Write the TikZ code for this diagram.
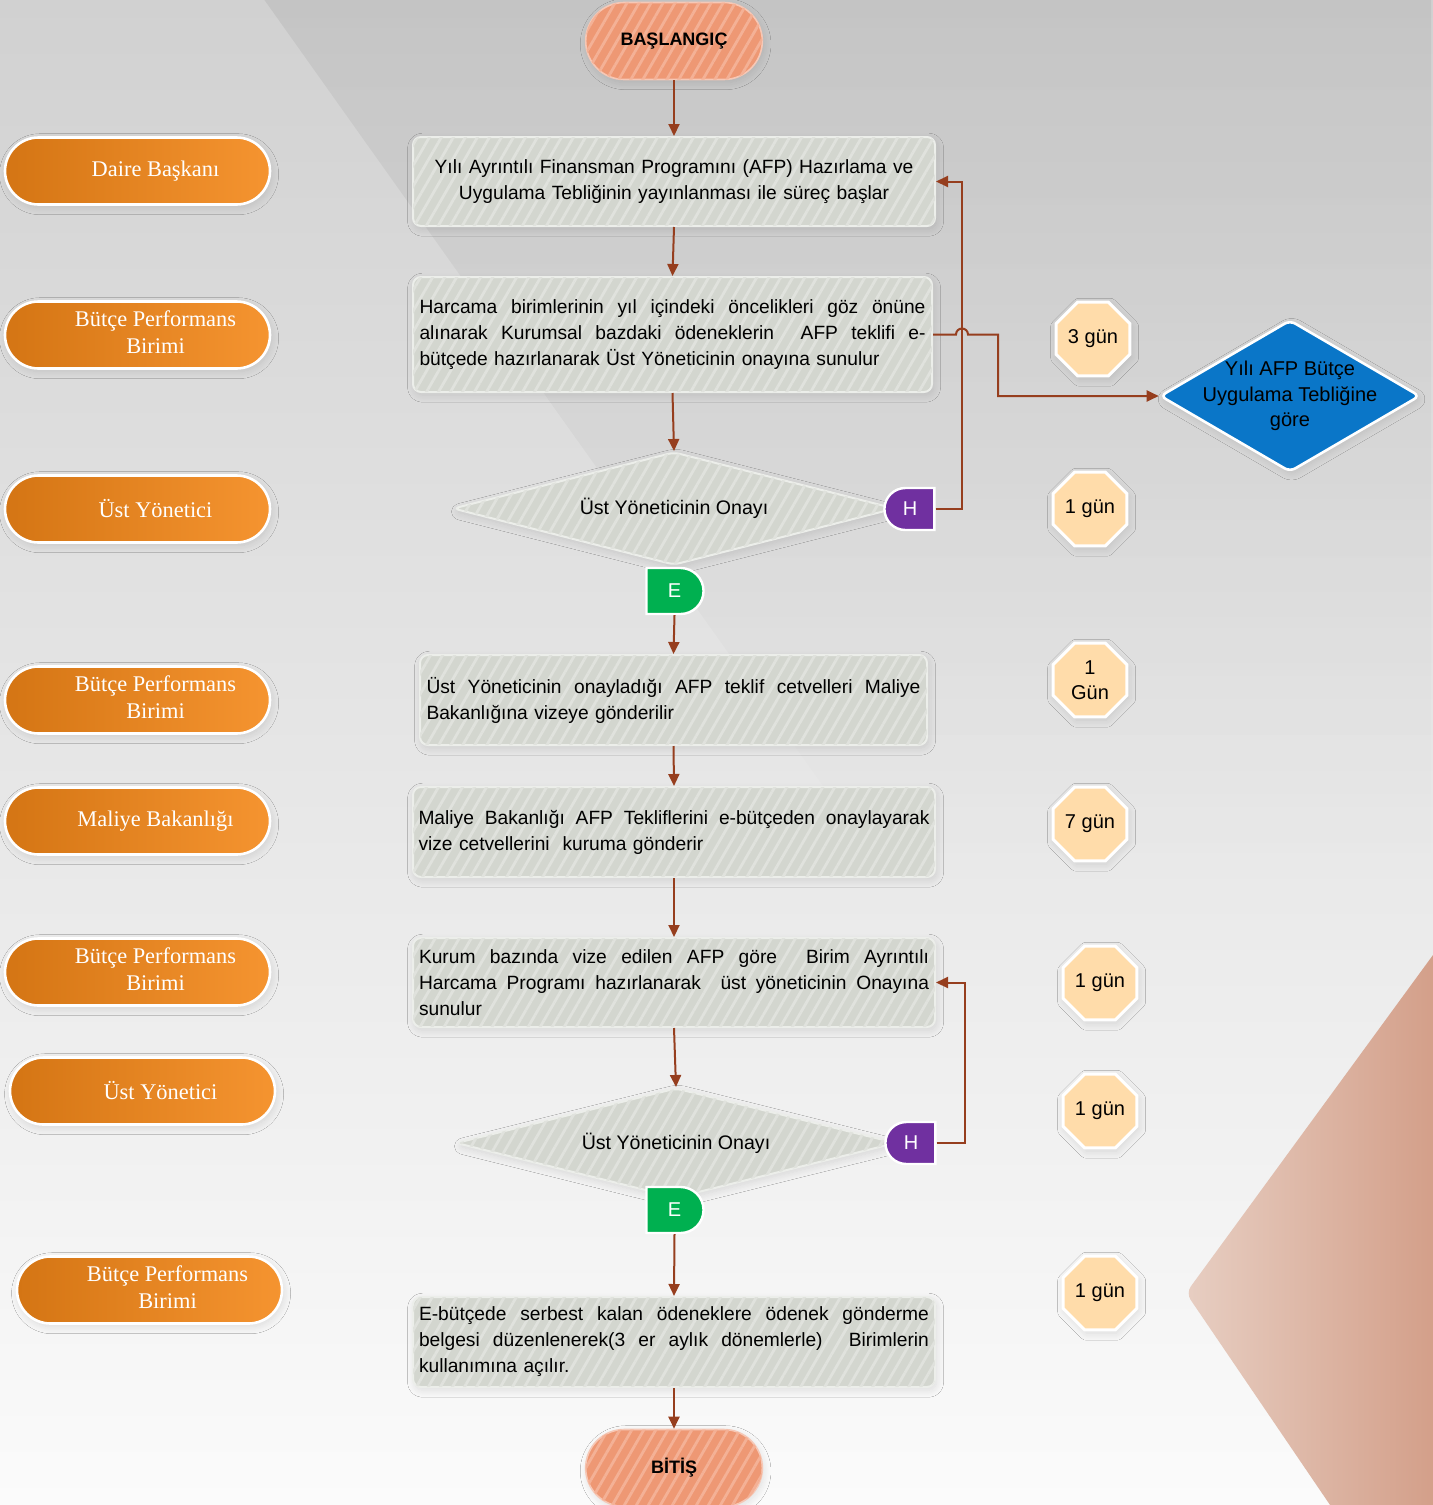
\documentclass[tikz,border=0pt]{standalone}
\usepackage{fontspec}
\setmainfont{Liberation Sans}
\newfontfamily\rolefont{Liberation Serif}
\usetikzlibrary{shapes.geometric,shapes.misc,arrows.meta,patterns.meta,shadows.blur,fadings}

\definecolor{bgtop}{RGB}{209,209,209}
\definecolor{bgbot}{RGB}{251,251,251}
\definecolor{boxfill}{RGB}{211,214,207}
\definecolor{boxstripe}{RGB}{224,226,221}
\definecolor{boxedge}{RGB}{236,238,234}
\definecolor{termfill}{RGB}{238,152,116}
\definecolor{termstripe}{RGB}{244,177,150}
\definecolor{termedge}{RGB}{246,200,182}
\definecolor{flowc}{RGB}{150,62,30}
\definecolor{pillL}{RGB}{212,117,20}
\definecolor{pillR}{RGB}{245,148,48}
\definecolor{octfill}{RGB}{255,220,170}
\definecolor{hpurple}{RGB}{112,48,160}
\definecolor{egreen}{RGB}{0,176,80}
\definecolor{bluedia}{RGB}{10,118,200}
\definecolor{salmonL}{RGB}{231,206,194}
\definecolor{salmonR}{RGB}{211,158,136}

% two centred lines for the unit labels
\newcommand\rolelines[2]{\begin{tabular}{@{}c@{}}#1\\[0.6pt]#2\end{tabular}}
% one fully justified line of a step text
\newcommand\jline[1]{\hbox to \hsize{\spaceskip=0.25em plus 1fil\relax #1}\par}

\begin{document}
\begin{tikzpicture}[x=0.5pt,y=-0.5pt,
  softshadow/.style={blur shadow={shadow xshift=0.8pt,shadow yshift=-1.6pt,
      shadow blur steps=12,shadow opacity=11,shadow blur radius=3.5pt}},
  stripes/.style={postaction={pattern={Lines[angle=60,distance=5.2pt,line width=1.4pt]},
      pattern color=#1}},
  box/.style={rectangle,rounded corners=4pt,fill=boxfill,draw=boxedge,line width=1pt,
      softshadow,stripes=boxstripe,inner sep=0pt,
      font=\fontsize{9.6}{13}\selectfont},
  gdia/.style={diamond,aspect=4,rounded corners=3pt,fill=boxfill,draw=boxedge,
      line width=1pt,softshadow,stripes=boxstripe,inner sep=0pt,
      font=\fontsize{9.8}{13}\selectfont},
  term/.style={rounded rectangle,minimum width=95pt,minimum height=38.5pt,
      fill=termfill,draw=termedge,line width=0.8pt,softshadow,stripes=termstripe,
      font=\bfseries\fontsize{9}{11}\selectfont},
  pill/.style={rounded rectangle,minimum width=132.5pt,minimum height=33.5pt,
      left color=pillL,right color=pillR,draw=white,line width=1.3pt,softshadow,
      text=white,inner sep=0pt,font=\rolefont\fontsize{11.2}{13}\selectfont},
  oct/.style={regular polygon,regular polygon sides=8,minimum size=40pt,
      fill=octfill,draw=white,line width=1.5pt,softshadow,inner sep=0pt,
      align=center,font=\fontsize{10}{12.5}\selectfont},
  hnode/.style={rounded rectangle,rounded rectangle right arc=none,fill=hpurple,
      draw=white,line width=1.2pt,text=white,minimum width=25pt,minimum height=21pt,
      inner sep=0pt,font=\fontsize{10}{12}\selectfont},
  enode/.style={rounded rectangle,rounded rectangle left arc=none,fill=egreen,
      draw=white,line width=1.2pt,text=white,minimum width=28.5pt,minimum height=23pt,
      inner sep=0pt,font=\fontsize{10}{12}\selectfont},
  bdia/.style={diamond,minimum width=130pt,minimum height=76pt,inner sep=-14pt,
      rounded corners=3pt,fill=bluedia,draw=white,line width=1.3pt,softshadow,
      align=center,font=\fontsize{10}{12.7}\selectfont},
  flow/.style={draw=flowc,line width=1pt,-{Triangle[length=6pt,width=5.5pt]}}
]
\useasboundingbox (0,0) rectangle (1433,1505);

% backdrop
\shade[top color=bgtop,bottom color=bgbot] (0,0) rectangle (1433,1505);
\fill[black,opacity=0.06,path fading=south] (265,0) -- (1433,0) -- (1433,880) -- (891,880) -- cycle;
\shade[left color=salmonL,right color=salmonR,rounded corners=4pt]
  (1440,945.4) -- (1186,1293) -- (1334.8,1512) -- (1440,1512) -- cycle;

% responsible units
\node[pill] (p1) at (137.5,171)  {\hspace*{18pt}Daire Başkanı};
\node[pill] (p2) at (137.5,335)  {\hspace*{18pt}\rolelines{Bütçe Performans}{Birimi}};
\node[pill] (p3) at (137.5,509)  {\hspace*{18pt}Üst Yönetici};
\node[pill] (p4) at (137.5,700)  {\hspace*{18pt}\rolelines{Bütçe Performans}{Birimi}};
\node[pill] (p5) at (137.5,821)  {\hspace*{18pt}Maliye Bakanlığı};
\node[pill] (p6) at (137.5,972)  {\hspace*{18pt}\rolelines{Bütçe Performans}{Birimi}};
\node[pill] (p7) at (142.5,1091) {\hspace*{18pt}Üst Yönetici};
\node[pill] (p8) at (149.5,1290) {\hspace*{18pt}\rolelines{Bütçe Performans}{Birimi}};

% main flow
\node[term] (st) at (674,41) {BAŞLANGIÇ};
\node[box,minimum width=261pt,minimum height=44.5pt,text width=252pt,align=center]
  (b1) at (674,181.5)
  {Yılı Ayrıntılı Finansman Programını (AFP) Hazırlama ve\\
   Uygulama Tebliğinin yayınlanması ile süreç başlar};
\node[box,minimum width=259.5pt,minimum height=57.5pt,text width=253pt,align=left]
  (b2) at (672.5,334.5)
  {\jline{Harcama birimlerinin yıl içindeki öncelikleri göz önüne}
   \jline{alınarak Kurumsal bazdaki ödeneklerin \ AFP teklifi e-}
   bütçede hazırlanarak Üst Yöneticinin onayına sunulur};
\node[gdia,minimum width=221pt,minimum height=56.5pt] (d1) at (674,508.5)
  {Üst Yöneticinin Onayı};
\node[hnode] (h1) at (910,509) {H};
\node[enode] (e1) at (674.5,591) {E};
\node[box,minimum width=253.5pt,minimum height=45pt,text width=247pt,align=left]
  (b3) at (673.5,700)
  {\jline{Üst Yöneticinin onayladığı AFP teklif cetvelleri Maliye}
   Bakanlığına vizeye gönderilir};
\node[box,minimum width=261pt,minimum height=45pt,text width=255.5pt,align=left]
  (b4) at (674,832)
  {\jline{Maliye Bakanlığı AFP Tekliflerini e-bütçeden onaylayarak}
   vize cetvellerini \ kuruma gönderir};
\node[box,minimum width=261pt,minimum height=44.5pt,text width=255pt,align=left]
  (b5) at (674,982.5)
  {\jline{Kurum bazında vize edilen AFP göre \ Birim Ayrıntılı}
   \jline{Harcama Programı hazırlanarak \ üst yöneticinin Onayına}
   sunulur};
\node[gdia,minimum width=220pt,minimum height=55pt] (d2) at (676,1143)
  {Üst Yöneticinin Onayı};
\node[hnode] (h2) at (911,1143) {H};
\node[enode] (e2) at (674.5,1210) {E};
\node[box,minimum width=261pt,minimum height=45pt,text width=255pt,align=left]
  (b6) at (674,1342)
  {\jline{E-bütçede serbest kalan ödeneklere ödenek gönderme}
   \jline{belgesi düzenlenerek(3 er aylık dönemlerle) \ Birimlerin}
   kullanımına açılır.};
\node[term] (en) at (674,1468) {BİTİŞ};

% reference note
\node[bdia] (bd) at (1290,396) {Yılı AFP Bütçe\\Uygulama Tebliğine\\göre};

% durations
\node[oct] (t1) at (1093,339)  {3 gün};
\node[oct] (t2) at (1090,509)  {1 gün};
\node[oct] (t3) at (1090,680)  {1\\Gün};
\node[oct] (t4) at (1090,824)  {7 gün};
\node[oct] (t5) at (1100,983)  {1 gün};
\node[oct] (t6) at (1100,1111) {1 gün};
\node[oct] (t7) at (1100,1293) {1 gün};

% connectors
\draw[flow] (st.south) -- (b1.north);
\draw[flow] (b1.south) -- (b2.north);
\draw[flow] (b2.south) -- (d1.north);
\draw[flow] (e1.south) -- (b3.north);
\draw[flow] (b3.south) -- (b4.north);
\draw[flow] (b4.south) -- (b5.north);
\draw[flow] (b5.south) -- (d2.north);
\draw[flow] (e2.south) -- (b6.north);
\draw[flow] (b6.south) -- (en.north);
\draw[flow] (h1.east) -- ++(13pt,0) |- (b1.east);
\draw[flow] (b2.east) -- ++(11.5pt,0) arc[start angle=180,end angle=0,radius=3pt]
  -- ++(15pt,0) |- (bd.west);
\draw[flow] (h2.east) -- ++(14pt,0) |- (b5.east);
\end{tikzpicture}
\end{document}
